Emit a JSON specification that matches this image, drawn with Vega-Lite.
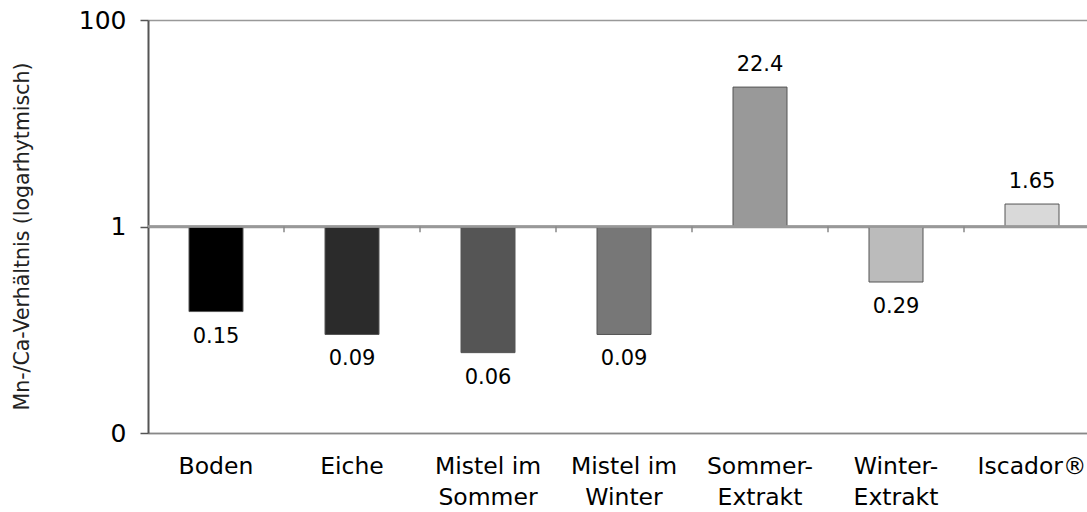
{
  "$schema": "https://vega.github.io/schema/vega-lite/v6.json",
  "width": 939,
  "height": 413,
  "autosize": {"type": "none"},
  "padding": {"left": 148, "top": 20, "right": 0, "bottom": 79},
  "config": {"font": "DejaVu Sans", "view": {"stroke": null}},
  "data": {
    "values": [
      {"Probe": "Boden", "Verhaeltnis": 0.15},
      {"Probe": "Eiche", "Verhaeltnis": 0.09},
      {"Probe": "Mistel im Sommer", "Verhaeltnis": 0.06},
      {"Probe": "Mistel im Winter", "Verhaeltnis": 0.09},
      {"Probe": "Sommer-Extrakt", "Verhaeltnis": 22.4},
      {"Probe": "Winter-Extrakt", "Verhaeltnis": 0.29},
      {"Probe": "Iscador®", "Verhaeltnis": 1.65}
    ]
  },
  "layer": [
    {
      "mark": {"type": "bar", "size": 54, "stroke": "#555555", "strokeWidth": 1},
      "encoding": {
        "x": {
          "field": "Probe",
          "type": "nominal",
          "sort": null,
          "scale": {"range": [0, 952], "paddingInner": 0, "paddingOuter": 0},
          "axis": {
            "title": null,
            "ticks": false,
            "domainColor": "#888888",
            "domainWidth": 1.5,
            "labelFontSize": 23.5,
            "labelColor": "#000000",
            "labelPadding": 21,
            "labelLineHeight": 31,
            "labelAngle": 0,
            "labelOverlap": false,
            "labelBound": false,
            "labelExpr": "split(replace(replace(datum.label, 'im ', 'im|'), '-', '-|'), '|')"
          }
        },
        "y": {
          "field": "Verhaeltnis",
          "type": "quantitative",
          "scale": {"type": "log", "domain": [0.01, 100], "nice": false},
          "axis": {
            "values": [0.01, 1, 100],
            "labelExpr": "datum.value < 0.1 ? '0' : (datum.value < 10 ? '1' : '100')",
            "labelFontSize": 25,
            "labelColor": "#000000",
            "labelPadding": 14,
            "labelBound": false,
            "tickSize": 8,
            "tickColor": "#555555",
            "tickWidth": 1.5,
            "domainColor": "#555555",
            "domainWidth": 2,
            "grid": true,
            "gridColor": "#999999",
            "gridWidth": 1.5,
            "title": "Mn-/Ca-Verhältnis (logarhytmisch)",
            "titleFontSize": 20.5,
            "titleFontWeight": "normal",
            "titleColor": "#222222",
            "titleAngle": -90,
            "titleX": -126,
            "titleY": 216,
            "titleAlign": "center",
            "titleBaseline": "middle"
          }
        },
        "y2": {"datum": 1},
        "color": {
          "field": "Probe",
          "type": "nominal",
          "scale": {
            "domain": ["Boden", "Eiche", "Mistel im Sommer", "Mistel im Winter", "Sommer-Extrakt", "Winter-Extrakt", "Iscador®"],
            "range": ["#000000", "#2b2b2b", "#555555", "#777777", "#999999", "#bbbbbb", "#d9d9d9"]
          },
          "legend": null
        }
      }
    },
    {
      "mark": {"type": "rule", "color": "#999999", "strokeWidth": 1.5},
      "encoding": {"y": {"datum": 1}}
    },
    {
      "transform": [{"filter": "datum.Probe != 'Boden'"}],
      "mark": {"type": "rule", "color": "#888888", "strokeWidth": 1.5},
      "encoding": {
        "x": {"field": "Probe", "type": "nominal", "sort": null, "bandPosition": 0},
        "y": {"datum": 1},
        "y2": {"datum": 0.88}
      }
    },
    {
      "transform": [{"filter": "datum.Verhaeltnis < 1"}],
      "mark": {"type": "text", "baseline": "top", "dy": 14, "fontSize": 21, "color": "#000000"},
      "encoding": {
        "x": {"field": "Probe", "type": "nominal", "sort": null},
        "y": {"field": "Verhaeltnis", "type": "quantitative"},
        "text": {"field": "Verhaeltnis", "type": "quantitative", "format": ".3~r"}
      }
    },
    {
      "transform": [{"filter": "datum.Verhaeltnis > 1"}],
      "mark": {"type": "text", "baseline": "alphabetic", "dy": -16, "fontSize": 21, "color": "#000000"},
      "encoding": {
        "x": {"field": "Probe", "type": "nominal", "sort": null},
        "y": {"field": "Verhaeltnis", "type": "quantitative"},
        "text": {"field": "Verhaeltnis", "type": "quantitative", "format": ".3~r"}
      }
    }
  ]
}
